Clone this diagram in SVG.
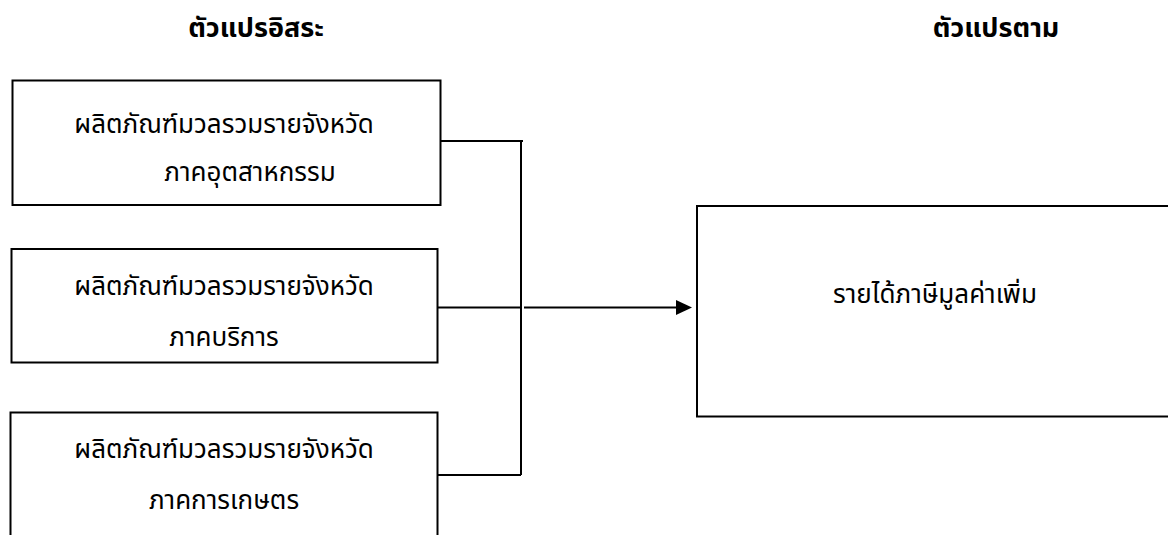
<svg xmlns="http://www.w3.org/2000/svg" width="1168" height="535" viewBox="0 0 1168 535">
<style>
.box{fill:#fff;stroke:#000;stroke-width:2}
.t{font-family:"Noto Sans Thai","Noto Sans","DejaVu Sans",sans-serif;font-size:26px;fill:#000;text-anchor:middle}
.h{font-family:"Noto Sans Thai","Noto Sans","DejaVu Sans",sans-serif;font-size:27px;font-weight:bold;fill:#000;text-anchor:middle}
.c{fill:none;stroke:#000;stroke-width:2}
</style>
<rect width="1168" height="535" fill="#fff"/>
<g id="title-left"><text class="h" x="256" y="37">ตัวแปรอิสระ</text></g>
<g id="title-right"><text class="h" x="996" y="37">ตัวแปรตาม</text></g>
<g id="node-industry">
<rect class="box" x="12.5" y="80.5" width="428" height="124.5"/>
<text class="t" x="224" y="133">ผลิตภัณฑ์มวลรวมรายจังหวัด</text>
<text class="t" x="250" y="181">ภาคอุตสาหกรรม</text>
</g>
<g id="node-service">
<rect class="box" x="11.5" y="249" width="426" height="113.5"/>
<text class="t" x="224" y="295">ผลิตภัณฑ์มวลรวมรายจังหวัด</text>
<text class="t" x="224" y="346">ภาคบริการ</text>
</g>
<g id="node-agri">
<rect class="box" x="10.5" y="412.5" width="427" height="140"/>
<text class="t" x="224" y="458">ผลิตภัณฑ์มวลรวมรายจังหวัด</text>
<text class="t" x="224" y="509">ภาคการเกษตร</text>
</g>
<g id="node-vat">
<rect class="box" x="697" y="206" width="490" height="210.5"/>
<text class="t" x="935" y="303">รายได้ภาษีมูลค่าเพิ่ม</text>
</g>
<g id="connectors">
<path class="c" d="M440.5 141 H523 M521 141 V475 M437.5 307.5 H521 M437.5 475 H521"/>
<path class="c" d="M524 307.5 H678"/>
<polygon points="676,300 692,307.5 676,315" fill="#000"/>
</g>
</svg>
